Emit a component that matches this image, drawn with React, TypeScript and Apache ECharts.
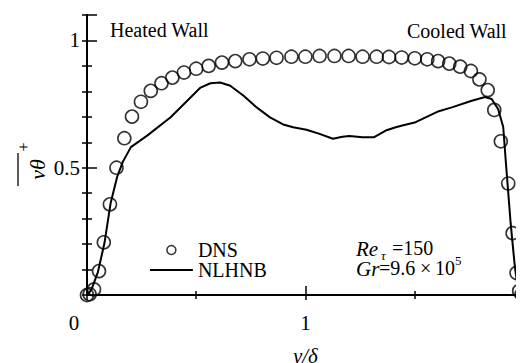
import React, { useEffect, useRef } from "react";
import * as echarts from "echarts";

// DNS profile of the wall-normal turbulent heat flux
const dnsX = [
  0, 0.012, 0.032, 0.055, 0.077, 0.105, 0.135, 0.171, 0.206, 0.247, 0.292, 0.341,
  0.391, 0.444, 0.5, 0.557, 0.618, 0.679, 0.744, 0.805, 0.868, 0.936, 1.0, 1.065,
  1.133, 1.198, 1.262, 1.326, 1.383, 1.441, 1.501, 1.558, 1.608, 1.659, 1.709,
  1.758, 1.797, 1.835, 1.865, 1.895, 1.929, 1.949, 1.967, 1.979, 1.99, 2.0,
];
const dnsY = [
  0, 0.003, 0.022, 0.094, 0.207, 0.356, 0.5, 0.616, 0.701, 0.759, 0.802, 0.832,
  0.854, 0.874, 0.889, 0.9, 0.913, 0.919, 0.926, 0.929, 0.932, 0.936, 0.936, 0.939,
  0.939, 0.939, 0.936, 0.936, 0.935, 0.933, 0.93, 0.926, 0.919, 0.909, 0.897,
  0.88, 0.847, 0.805, 0.727, 0.604, 0.438, 0.243, 0.087, 0.016, 0.003, 0,
];

// NLHNB model prediction
const modelX = [
  0, 0.02, 0.05, 0.08, 0.108, 0.138, 0.164, 0.201, 0.277, 0.383, 0.459, 0.52,
  0.565, 0.61, 0.656, 0.717, 0.777, 0.838, 0.898, 0.944, 1.005, 1.065, 1.126,
  1.17, 1.201, 1.262, 1.315, 1.368, 1.414, 1.444, 1.505, 1.611, 1.671, 1.762,
  1.823, 1.853, 1.883, 1.906, 1.92, 1.94, 1.959, 1.974, 1.99,
];
const modelY = [
  0, 0.02, 0.09, 0.204, 0.36, 0.464, 0.523, 0.581, 0.627, 0.698, 0.763, 0.815,
  0.832, 0.835, 0.822, 0.783, 0.737, 0.698, 0.67, 0.659, 0.649, 0.633, 0.614,
  0.622, 0.625, 0.62, 0.62, 0.646, 0.659, 0.666, 0.679, 0.722, 0.737, 0.763,
  0.778, 0.77, 0.73, 0.66, 0.5, 0.282, 0.113, 0.022, 0,
];

const seriesNames = ["DNS", "NLHNB"];
const xTickLabels = ["0", "1", "2"];
const wallLabels = ["Heated Wall", "Cooled Wall"];

const SERIF = "Liberation Serif";

function buildOption() {
  const dnsData = dnsX.map((x, i) => [x, dnsY[i]]);
  const modelData = modelX.map((x, i) => [x, modelY[i]]);

  const axisLine = { show: true, lineStyle: { color: "#000", width: 2 } };
  const txt = (size: number, italic = false) =>
    italic
      ? { fontFamily: SERIF, fontSize: size, fontStyle: "italic", fill: "#000" }
      : { fontFamily: SERIF, fontSize: size, fill: "#000" };

  return {
    animation: false,
    grid: { left: 79, right: 5, top: 7, bottom: 74 },
    legend: {
      orient: "vertical",
      left: 141,
      top: 232,
      padding: 0,
      itemGap: 0,
      itemWidth: 43,
      itemHeight: 9,
      textStyle: { fontFamily: SERIF, fontSize: 20, color: "#000", lineHeight: 20 },
      data: [
        {
          name: seriesNames[0],
          icon: "circle",
          itemStyle: { color: "transparent", borderColor: "#000", borderWidth: 1.5 },
        },
        {
          name: seriesNames[1],
          itemStyle: { color: "transparent", borderColor: "transparent", borderWidth: 0 },
          lineStyle: { color: "#000", width: 1.8 },
        },
      ],
    },
    xAxis: [
      {
        type: "value",
        position: "bottom",
        min: 0,
        max: 2,
        interval: 1,
        name: "y/δ",
        nameLocation: "middle",
        nameGap: 50,
        nameTextStyle: { fontFamily: SERIF, fontStyle: "italic", fontSize: 21, color: "#000" },
        axisLine,
        axisTick: { inside: true, length: 9, lineStyle: { color: "#000", width: 1.5 } },
        minorTick: { show: true, splitNumber: 2, length: 4, lineStyle: { color: "#000", width: 1.5 } },
        splitLine: { show: false },
        axisLabel: {
          margin: 17,
          fontFamily: SERIF,
          fontSize: 21,
          color: "#000",
          formatter: (v: number) => {
            const s = xTickLabels[Math.round(v)] ?? String(v);
            return v === 0 ? "{z|" + s + "}" : s;
          },
          rich: { z: { fontFamily: SERIF, fontSize: 21, color: "#000", padding: [0, 26, 0, 0] } },
        },
      },
      {
        type: "value",
        position: "top",
        min: 0,
        max: 2,
        interval: 1,
        axisLine,
        axisTick: { inside: true, length: 5, lineStyle: { color: "#000", width: 1.5 } },
        minorTick: { show: true, splitNumber: 2, length: 4, lineStyle: { color: "#000", width: 1.5 } },
        splitLine: { show: false },
        axisLabel: { show: false },
      },
    ],
    yAxis: [
      {
        type: "value",
        position: "left",
        min: 0,
        max: 1.1,
        interval: 0.5,
        axisLine,
        axisTick: { inside: true, length: 10, lineStyle: { color: "#000", width: 1.5 } },
        minorTick: { show: true, splitNumber: 5, length: 5, lineStyle: { color: "#000", width: 1.5 } },
        splitLine: { show: false },
        axisLabel: {
          margin: 7,
          fontFamily: SERIF,
          fontSize: 21,
          color: "#000",
          showMaxLabel: false,
          formatter: (v: number) => (v === 0 || v > 1.05 ? "" : String(v)),
        },
      },
      {
        type: "value",
        position: "right",
        min: 0,
        max: 1.1,
        interval: 0.5,
        axisLine,
        axisTick: { inside: true, length: 5, lineStyle: { color: "#000", width: 1.5 } },
        minorTick: { show: true, splitNumber: 5, length: 5, lineStyle: { color: "#000", width: 1.5 } },
        splitLine: { show: false },
        axisLabel: { show: false },
      },
    ],
    series: [
      {
        name: seriesNames[0],
        type: "scatter",
        data: dnsData,
        symbol: "circle",
        symbolSize: 13,
        clip: false,
        itemStyle: { color: "transparent", borderColor: "#000", borderWidth: 1.6 },
        z: 3,
      },
      {
        name: seriesNames[1],
        type: "line",
        data: modelData,
        symbol: "none",
        clip: false,
        lineStyle: { color: "#000", width: 2 },
        itemStyle: { color: "#000" },
        z: 2,
      },
    ],
    graphic: [
      { type: "text", x: 102, y: 12, style: { text: wallLabels[0], ...txt(20) } },
      { type: "text", x: 399, y: 13, style: { text: wallLabels[1], ...txt(20) } },
      // Re_tau = 150
      { type: "text", x: 348, y: 230, style: { text: "Re", ...txt(21, true) } },
      { type: "text", x: 373, y: 241, style: { text: "τ", ...txt(13, true) } },
      { type: "text", x: 384, y: 230, style: { text: "=150", ...txt(20) } },
      // Gr = 9.6 x 10^5
      { type: "text", x: 348, y: 250, style: { text: "Gr", ...txt(21, true) } },
      { type: "text", x: 371, y: 250, style: { text: "=9.6", ...txt(20) } },
      { type: "text", x: 412, y: 250, style: { text: "×", ...txt(20) } },
      { type: "text", x: 427, y: 250, style: { text: "10", ...txt(20) } },
      { type: "text", x: 447, y: 246, style: { text: "5", ...txt(13) } },
      // y-axis title: overlined v-theta with superscript plus
      {
        type: "group",
        x: 29,
        y: 161.5,
        rotation: Math.PI / 2,
        children: [
          {
            type: "text",
            x: 0,
            y: 0,
            style: { text: "vθ", ...txt(22, true), textAlign: "center", textVerticalAlign: "middle" },
          },
          {
            type: "line",
            shape: { x1: -16.5, y1: -19, x2: 16.5, y2: -19 },
            style: { stroke: "#000", lineWidth: 1.3 },
          },
          {
            type: "text",
            x: 22.5,
            y: -14,
            style: { text: "+", ...txt(16), textAlign: "center", textVerticalAlign: "middle" },
          },
        ],
      },
    ],
  };
}

export default function App() {
  const ref = useRef<HTMLDivElement>(null);

  useEffect(() => {
    const chart = echarts.init(ref.current!, undefined, { renderer: "svg" });
    chart.setOption(buildOption());
    return () => chart.dispose();
  }, []);

  return <div ref={ref} style={{ width: 524, height: 363 }} />;
}
